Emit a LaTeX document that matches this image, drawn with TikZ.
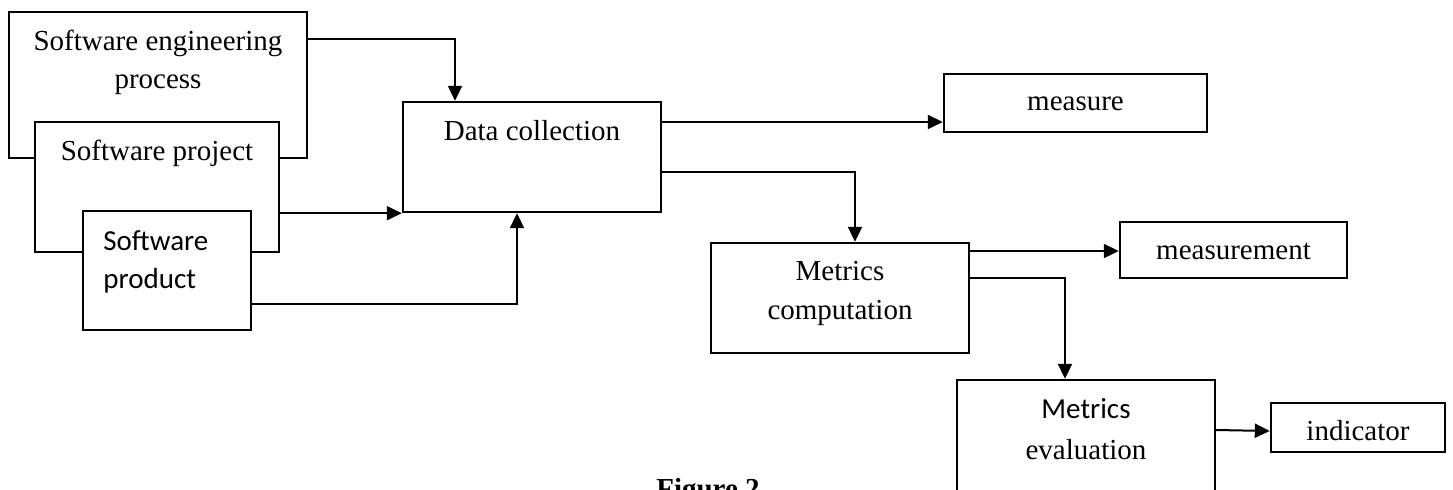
\documentclass[tikz,border=0pt]{standalone}
\usepackage{fontspec}
\setmainfont{Liberation Serif}
\newfontfamily\calfont{Carlito}
\usetikzlibrary{arrows.meta}
\begin{document}
\begin{tikzpicture}[x=0.5pt,y=-0.5pt,
  bx/.style={draw, line width=1.2pt, fill=white, inner sep=0pt},
  txt/.style={inner sep=0pt, anchor=base, font=\fontsize{14.5}{17}\selectfont},
  stxt/.style={inner sep=0pt, anchor=base west, font=\calfont\fontsize{14.5}{17}\selectfont},
  arr/.style={line width=1pt, -{Triangle[length=7.5pt,width=7pt]}},
  ln/.style={line width=1pt}]
\useasboundingbox (0,0) rectangle (1453,489);
\clip (0,0) rectangle (1453,489);
% left stack
\node[bx, minimum width=149pt, minimum height=73pt] (sep) at (158,85) {};
\node[bx, minimum width=122pt, minimum height=65pt] (proj) at (157,187) {};
\node[bx, minimum width=84pt, minimum height=59.5pt] (prod) at (167,270.5) {};
\node[txt] (tsep1) at (158,50) {Software engineering};
\node[txt] (tsep2) at (158,88) {process};
\node[txt] (tproj) at (157,160) {Software project};
\node[stxt] (tprod1) at (103,250) {Software};
\node[stxt] (tprod2) at (103,288) {product};
% main boxes
\node[bx, minimum width=129pt, minimum height=55pt] (dc) at (532,157) {};
\node[txt] (tdc) at (532,140) {Data collection};
\node[bx, minimum width=131.5pt, minimum height=29pt] (meas) at (1075.5,103) {};
\node[txt] (tmeas) at (1075.5,110) {measure};
\node[bx, minimum width=129pt, minimum height=55pt] (mc) at (840,298) {};
\node[txt] (tmc1) at (840,280) {Metrics};
\node[txt] (tmc2) at (840,319) {computation};
\node[bx, minimum width=113.5pt, minimum height=28pt] (mment) at (1233.5,250) {};
\node[txt] (tmment) at (1233.5,259) {measurement};
\node[bx, minimum width=129pt, minimum height=60pt] (me) at (1086,440) {};
\node[txt, font=\calfont\fontsize{14.5}{17}\selectfont] (tme1) at (1086,418) {Metrics};
\node[txt] (tme2) at (1086,459) {evaluation};
\node[bx, minimum width=87pt, minimum height=24.5pt] (ind) at (1358,427.5) {};
\node[txt] (tind) at (1358,440) {indicator};
\node[txt, font=\bfseries\fontsize{14.5}{17}\selectfont] (fig) at (708,498) {Figure 2};
% connectors
\draw[arr] (sep.east |- 0,39) -| (dc.north -| 455,0);
\draw[arr] (proj.east |- dc.south) -- (dc.south west);
\draw[arr] (prod.east |- 0,304) -| (dc.south -| 517,0);
\draw[arr] (dc.east |- 0,122) -- (meas.west |- 0,122);
\draw[arr] (dc.east |- 0,172) -| (mc.north -| 855,0);
\draw[arr] (mc.east |- 0,251) -- (mment.west |- 0,251);
\draw[arr] (mc.east |- 0,278) -| (me.north -| 1065,0);
\draw[arr] (me.east |- 0,430) -- (ind.west |- 0,431);
\end{tikzpicture}
\end{document}
